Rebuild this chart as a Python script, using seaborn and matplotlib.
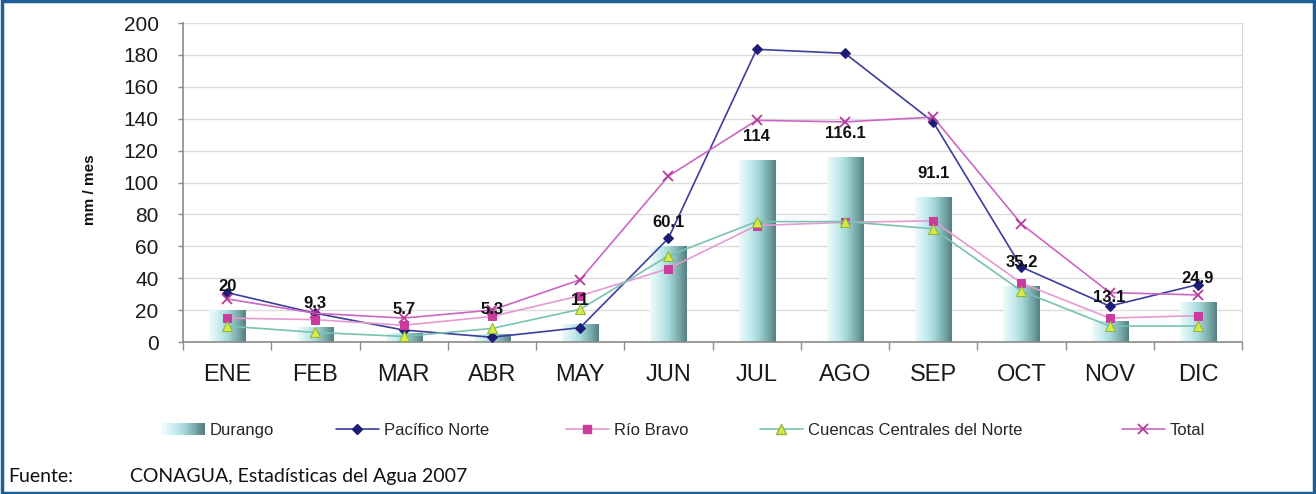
import numpy as np
import pandas as pd
import matplotlib
matplotlib.use("Agg")
import matplotlib.pyplot as plt
import seaborn as sns
from matplotlib.colors import LinearSegmentedColormap
from matplotlib.patches import Rectangle
from matplotlib.lines import Line2D
from matplotlib.legend_handler import HandlerBase

# Precipitación mensual (mm / mes)
meses = ["ENE", "FEB", "MAR", "ABR", "MAY", "JUN", "JUL", "AGO", "SEP", "OCT", "NOV", "DIC"]
durango = [20, 9.3, 5.7, 5.3, 11, 60.1, 114, 116.1, 91.1, 35.2, 13.1, 24.9]
pacifico_norte = [31, 18, 7.5, 3, 9, 65, 183.5, 181, 138, 47, 22.5, 36]
rio_bravo = [15, 14, 10.5, 16, 29, 46, 73, 75, 76, 37, 15, 16.5]
cuencas_centrales = [10, 6, 3.5, 8.5, 20.5, 54, 75.5, 75.5, 71, 32, 10, 10]
total = [27, 18, 15, 20, 39, 104, 139, 138, 141, 74, 31, 29.5]

sns.set_style("white")
plt.rcParams["font.family"] = ["Liberation Sans", "DejaVu Sans"]

W, H = 1316, 494
fig = plt.figure(figsize=(W / 100, H / 100), dpi=100)
ax = fig.add_axes([183 / W, 1 - 342 / H, (1242 - 183) / W, (342 - 23) / H])

bar_cmap = LinearSegmentedColormap.from_list(
    "durango", ["#f0fbfb", "#cdeef0", "#a9dadc", "#7fb0b1", "#557f80"])

df = pd.DataFrame({"mes": meses, "Durango": durango})
sns.barplot(data=df, x="mes", y="Durango", ax=ax, width=0.41,
            color="#a9dadc", saturation=1, zorder=2)

# horizontal gradient fill inside each bar
grad = np.linspace(0, 1, 256).reshape(1, -1)
for p in list(ax.patches):
    x0, y0, w, h = p.get_x(), p.get_y(), p.get_width(), p.get_height()
    im = ax.imshow(grad, cmap=bar_cmap, extent=[x0, x0 + w, y0, y0 + h],
                   aspect="auto", zorder=2, interpolation="bilinear")
    im.set_clip_path(p)
    p.set_facecolor("none")
    p.set_edgecolor("none")

pos = np.arange(len(meses))
series = [
    ("Pacífico Norte", pacifico_norte, "#3d3d9e", dict(marker="D", markersize=5.5,
        markerfacecolor="#1d1d75", markeredgecolor="#1d1d75")),
    ("Río Bravo", rio_bravo, "#e59ad2", dict(marker="s", markersize=5.5,
        markerfacecolor="#cc3c9f", markeredgecolor="#cc3c9f")),
    ("Cuencas Centrales del Norte", cuencas_centrales, "#78c2b2", dict(marker="^", markersize=6.5,
        markerfacecolor="#d6ea4a", markeredgecolor="#8fb53a")),
    ("Total", total, "#cc66c2", dict(marker="x", markersize=6.5,
        markeredgecolor="#b43c9c", markeredgewidth=1.3)),
]
for name, vals, col, mk in series:
    sns.lineplot(x=pos, y=vals, ax=ax, color=col, linewidth=1.2, zorder=4,
                 legend=False, **mk)

# value labels for Durango
for i, v in enumerate(durango):
    ax.annotate(f"{v:g}", (i, v), xytext=(0, 17), textcoords="offset points",
                ha="center", va="center", fontsize=12, fontweight="bold",
                color="#111111", zorder=6)

ax.set_xlim(-0.5, len(meses) - 0.5)
ax.set_ylim(0, 200)
ax.set_yticks(np.arange(0, 201, 20))
ax.set_xticks(pos)
ax.set_xticklabels(meses)
ax.set_xticks(np.arange(-0.5, len(meses), 1), minor=True)
ax.set_xlabel("")
ax.set_ylabel("")
ax.grid(axis="y", color="#dcdcdc", linewidth=1, zorder=0)
ax.set_axisbelow(True)

ax.spines["top"].set_visible(False)
ax.spines["right"].set_color("#d4d4d4")
ax.spines["left"].set_color("#8a8a8a")
ax.spines["bottom"].set_color("#8a8a8a")
ax.spines["left"].set_linewidth(1.2)
ax.spines["bottom"].set_linewidth(1.2)

ax.tick_params(axis="y", which="major", direction="out", length=3.6, width=1,
               color="#8a8a8a", pad=14, labelsize=15, labelcolor="#1a1a1a", left=True)
ax.tick_params(axis="x", which="major", length=0, pad=16, labelsize=17,
               labelcolor="#1a1a1a", bottom=True)
ax.tick_params(axis="x", which="minor", direction="out", length=5.5, width=1,
               color="#8a8a8a", bottom=True)

fig.text(90 / W, 1 - 190 / H, "mm / mes", rotation=90, ha="center", va="center",
         fontsize=11, fontweight="bold", color="#111111")


class GradientPatchHandler(HandlerBase):
    def create_artists(self, legend, orig_handle, xdescent, ydescent,
                       width, height, fontsize, trans):
        n = 24
        arts = []
        for k in range(n):
            arts.append(Rectangle((-xdescent + k * width / n, -ydescent), width / n + 0.3,
                                  height, facecolor=bar_cmap(k / (n - 1)),
                                  edgecolor="none", transform=trans))
        return arts


durango_handle = Rectangle((0, 0), 1, 1)
handles = [durango_handle]
labels = ["Durango"]
for name, vals, col, mk in series:
    handles.append(Line2D([], [], color=col, linewidth=1.2, **mk))
    labels.append(name)

# one legend entry per slot along the bottom row
slot_x = [162, 336, 566, 760, 1122]
for hnd, lab, x in zip(handles, labels, slot_x):
    fig.legend([hnd], [lab], loc="center left",
               bbox_to_anchor=(x / W, 1 - 430 / H), frameon=False,
               fontsize=12, handlelength=2.55, handletextpad=0.3,
               borderpad=0, borderaxespad=0,
               handler_map={durango_handle: GradientPatchHandler()})

fig.text(8 / W, 1 - 476 / H, "Fuente:", fontsize=14, family=["Lato", "DejaVu Sans"],
         ha="left", va="center", color="#111111")
fig.text(130 / W, 1 - 476 / H, "CONAGUA, Estadísticas del Agua 2007", fontsize=14,
         family=["Lato", "DejaVu Sans"], ha="left", va="center", color="#111111")

# outer frame
fig.patches.append(Rectangle((0.0015, 0.003), 0.997, 0.994, transform=fig.transFigure,
                             fill=False, edgecolor="#1b5e98", linewidth=2.5))

fig.savefig("out.png", dpi=100)
